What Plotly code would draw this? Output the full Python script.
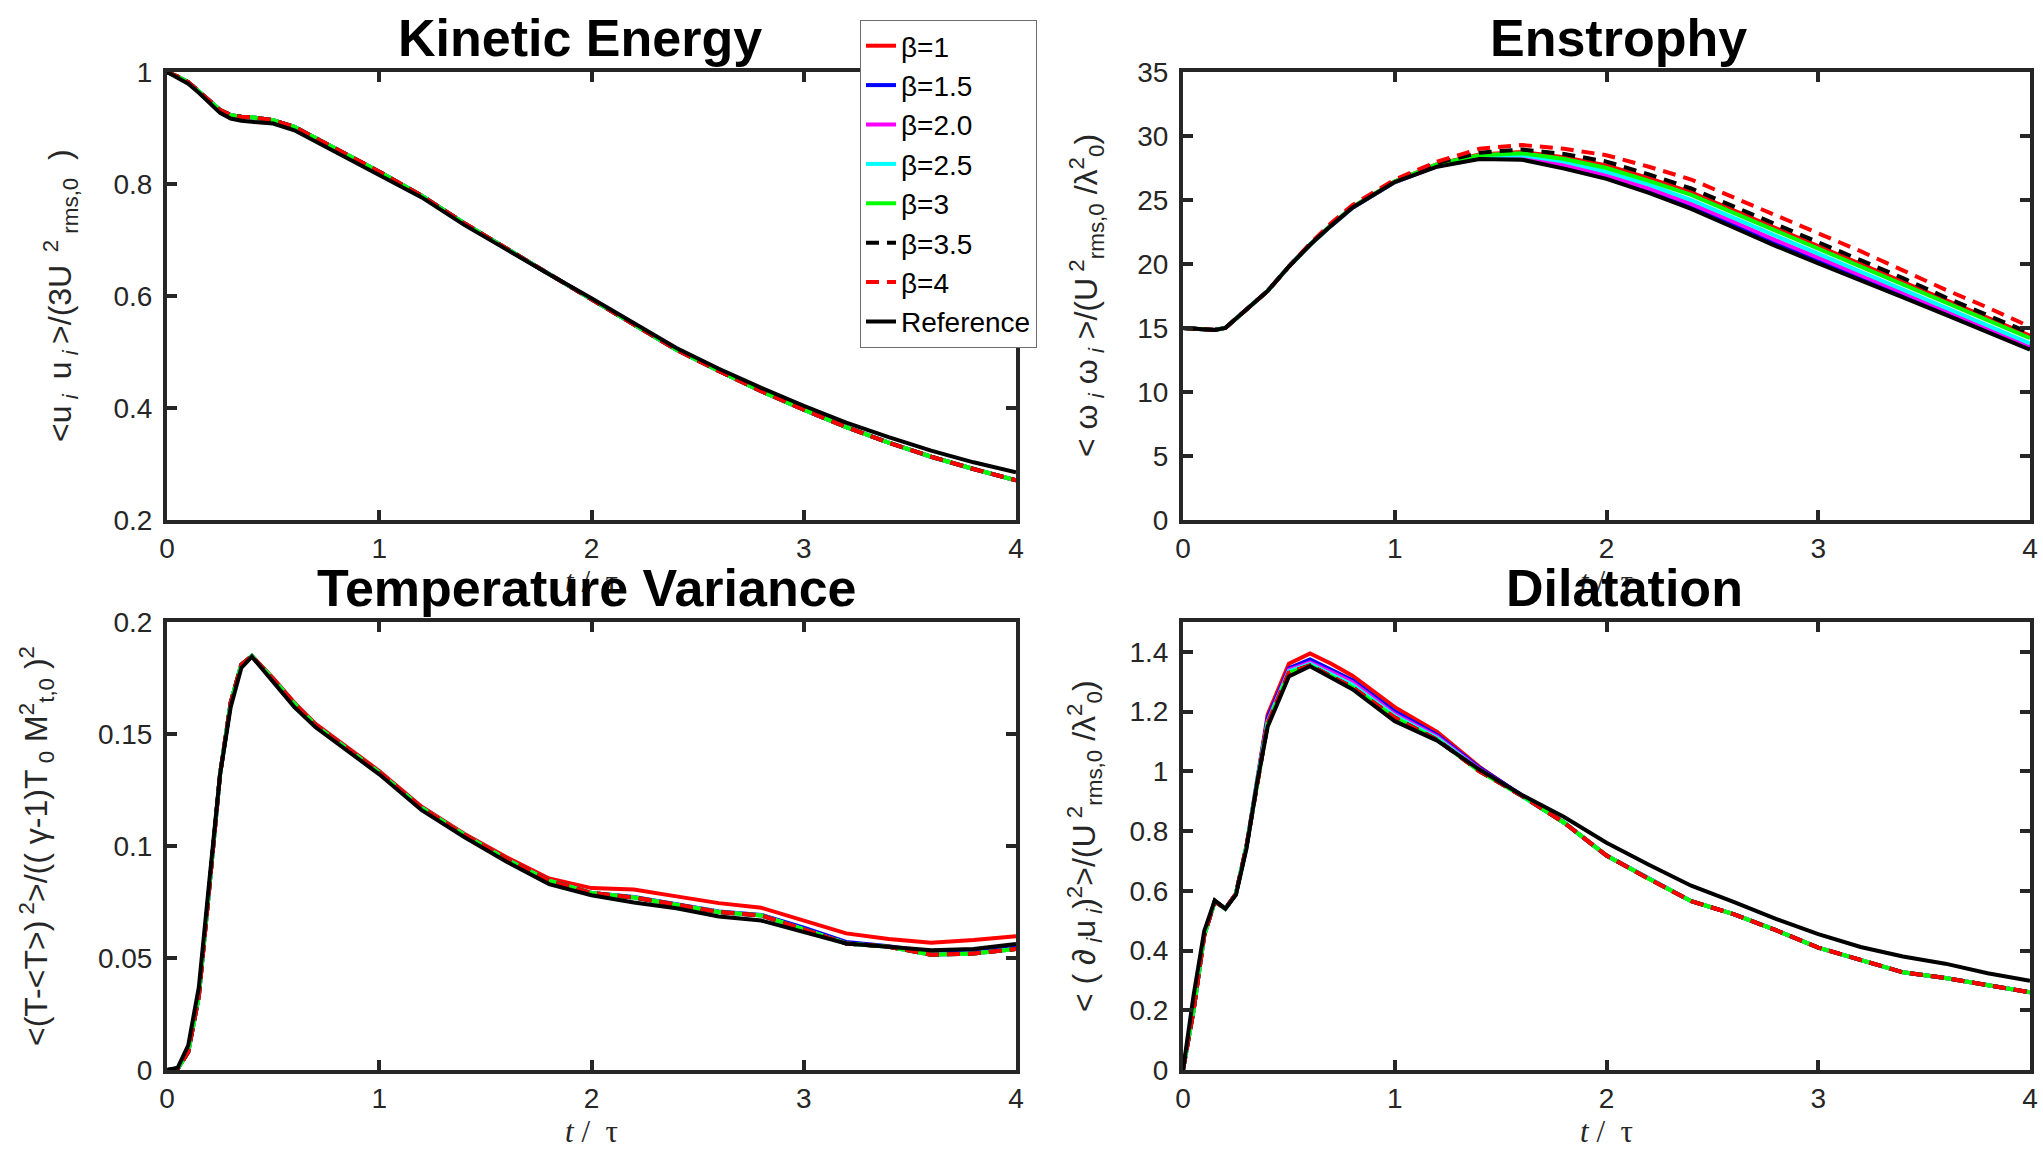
import plotly.graph_objects as go

W, H = 2043, 1151

# ---------------- data ----------------
t = [0, 0.05, 0.1, 0.15, 0.2, 0.25, 0.3, 0.35, 0.4, 0.5, 0.6, 0.7, 0.8, 1.0, 1.2, 1.4,
     1.6, 1.8, 2.0, 2.2, 2.4, 2.6, 2.8, 3.0, 3.2, 3.4, 3.6, 3.8, 4.0]

series_names = ["β=1", "β=1.5", "β=2.0", "β=2.5", "β=3", "β=3.5", "β=4", "Reference"]

# Kinetic energy
ke_ref = [1.000, 0.990, 0.979, 0.963, 0.945, 0.927, 0.917, 0.913, 0.911, 0.908, 0.896, 0.876, 0.856,
          0.818, 0.776, 0.727, 0.682, 0.639, 0.596, 0.551, 0.507, 0.470, 0.436, 0.404, 0.374, 0.348,
          0.324, 0.303, 0.285]
ke_beta = [1.000, 0.992, 0.982, 0.966, 0.948, 0.932, 0.923, 0.920, 0.919, 0.914, 0.902, 0.883, 0.862,
           0.822, 0.779, 0.730, 0.684, 0.639, 0.594, 0.549, 0.504, 0.466, 0.430, 0.397, 0.366, 0.338,
           0.313, 0.291, 0.271]

# Enstrophy
ens_ref = [15.0, 14.95, 14.85, 14.85, 15.0, 15.7, 16.4, 17.2, 17.9, 19.8, 21.5, 23.0, 24.4, 26.4, 27.6,
           28.2, 28.15, 27.45, 26.65, 25.55, 24.3, 22.85, 21.4, 20.05, 18.75, 17.4, 16.05, 14.7, 13.3]
ens_b1 = [15.0, 14.95, 14.85, 14.85, 15.0, 15.7, 16.4, 17.2, 17.9, 19.8, 21.5, 23.05, 24.45, 26.45, 27.8,
          28.55, 28.75, 28.35, 27.7, 26.7, 25.6, 24.2, 22.8, 21.4, 20.0, 18.6, 17.2, 15.8, 14.4]
ens_b15 = [15.0, 14.95, 14.85, 14.85, 15.0, 15.7, 16.4, 17.2, 17.9, 19.8, 21.5, 23.0, 24.4, 26.4, 27.65,
           28.25, 28.2, 27.55, 26.8, 25.7, 24.5, 23.05, 21.6, 20.25, 18.95, 17.6, 16.2, 14.85, 13.45]
ens_b2 = [15.0, 14.95, 14.85, 14.85, 15.0, 15.7, 16.4, 17.2, 17.9, 19.8, 21.5, 23.0, 24.4, 26.4, 27.65,
          28.3, 28.3, 27.75, 26.95, 25.9, 24.7, 23.3, 21.85, 20.5, 19.15, 17.8, 16.4, 15.0, 13.6]
ens_b25 = [15.0, 14.95, 14.85, 14.85, 15.0, 15.7, 16.4, 17.2, 17.9, 19.8, 21.5, 23.0, 24.4, 26.4, 27.7,
           28.4, 28.5, 28.0, 27.2, 26.2, 25.0, 23.6, 22.2, 20.8, 19.4, 18.0, 16.6, 15.2, 13.8]
ens_b3 = [15.0, 14.95, 14.85, 14.85, 15.0, 15.7, 16.4, 17.2, 17.9, 19.8, 21.5, 23.05, 24.45, 26.45, 27.8,
          28.5, 28.65, 28.2, 27.5, 26.5, 25.4, 24.0, 22.6, 21.2, 19.8, 18.4, 17.0, 15.6, 14.2]
ens_b35 = [15.0, 14.95, 14.85, 14.85, 15.0, 15.7, 16.4, 17.2, 17.9, 19.8, 21.55, 23.1, 24.5, 26.5, 27.9,
           28.7, 28.95, 28.6, 28.0, 27.0, 25.9, 24.5, 23.1, 21.7, 20.3, 18.9, 17.4, 16.0, 14.6]
ens_b4 = [15.0, 14.95, 14.85, 14.85, 15.0, 15.7, 16.4, 17.2, 17.9, 19.8, 21.6, 23.2, 24.6, 26.6, 28.0,
          29.0, 29.3, 29.0, 28.5, 27.6, 26.6, 25.2, 23.8, 22.4, 21.0, 19.5, 18.0, 16.6, 15.1]

# Temperature variance
temp_ref = [0.0, 0.001, 0.011, 0.037, 0.085, 0.132, 0.162, 0.1795, 0.1845, 0.173, 0.162, 0.153, 0.146,
            0.132, 0.116, 0.104, 0.093, 0.083, 0.078, 0.0748, 0.0722, 0.0685, 0.0667, 0.0615, 0.0565,
            0.055, 0.0535, 0.054, 0.0563]
temp_b1 = [0.0, 0.0005, 0.008, 0.033, 0.082, 0.132, 0.164, 0.181, 0.1848, 0.175, 0.164, 0.1545, 0.1475,
           0.1335, 0.1175, 0.1055, 0.095, 0.0855, 0.0812, 0.0806, 0.0775, 0.0745, 0.0724, 0.0668, 0.061,
           0.0585, 0.0568, 0.058, 0.0597]
temp_b15 = [0.0, 0.0005, 0.008, 0.033, 0.082, 0.132, 0.164, 0.181, 0.1848, 0.1745, 0.1635, 0.1538, 0.1468,
            0.1328, 0.117, 0.105, 0.094, 0.0845, 0.079, 0.0772, 0.074, 0.0708, 0.0692, 0.0635, 0.0572,
            0.0552, 0.0525, 0.0525, 0.0548]
temp_beta = [0.0, 0.0005, 0.008, 0.033, 0.082, 0.132, 0.164, 0.181, 0.1848, 0.1745, 0.1635, 0.1538, 0.1468,
             0.1328, 0.117, 0.105, 0.094, 0.0845, 0.079, 0.077, 0.0738, 0.0705, 0.069, 0.0628, 0.0565,
             0.055, 0.0515, 0.052, 0.054]

# Dilatation
dil_ref = [0.0, 0.25, 0.465, 0.568, 0.54, 0.586, 0.742, 0.961, 1.15, 1.318, 1.352, 1.315, 1.275, 1.168,
           1.103, 1.006, 0.921, 0.847, 0.761, 0.687, 0.617, 0.563, 0.506, 0.455, 0.412, 0.38, 0.356,
           0.324, 0.299]
dil_b1 = [0.0, 0.2, 0.45, 0.565, 0.54, 0.59, 0.75, 0.98, 1.19, 1.36, 1.395, 1.36, 1.32, 1.215, 1.132,
          1.015, 0.918, 0.828, 0.718, 0.64, 0.565, 0.522, 0.468, 0.41, 0.367, 0.327, 0.308, 0.284, 0.26]
dil_b15 = [0.0, 0.2, 0.45, 0.565, 0.54, 0.59, 0.75, 0.975, 1.18, 1.345, 1.375, 1.34, 1.305, 1.2, 1.122,
           1.012, 0.918, 0.828, 0.718, 0.64, 0.565, 0.522, 0.468, 0.41, 0.367, 0.327, 0.308, 0.284, 0.26]
dil_b2 = [0.0, 0.2, 0.45, 0.565, 0.54, 0.59, 0.75, 0.97, 1.17, 1.34, 1.365, 1.332, 1.298, 1.192, 1.117,
          1.008, 0.918, 0.828, 0.718, 0.64, 0.565, 0.522, 0.468, 0.41, 0.367, 0.327, 0.308, 0.284, 0.26]
dil_b25 = [0.0, 0.2, 0.45, 0.565, 0.54, 0.59, 0.75, 0.968, 1.165, 1.335, 1.36, 1.325, 1.29, 1.186, 1.112,
           1.005, 0.918, 0.828, 0.718, 0.64, 0.565, 0.522, 0.468, 0.41, 0.367, 0.327, 0.308, 0.284, 0.26]
dil_beta = [0.0, 0.2, 0.45, 0.565, 0.54, 0.59, 0.75, 0.965, 1.16, 1.33, 1.355, 1.318, 1.282, 1.18, 1.106,
            1.0, 0.918, 0.828, 0.718, 0.64, 0.565, 0.522, 0.468, 0.41, 0.367, 0.327, 0.308, 0.284, 0.26]

x_ticks = [0, 1, 2, 3, 4]
ke_ticks = [0.2, 0.4, 0.6, 0.8, 1.0]
ke_ticklabels = ["0.2", "0.4", "0.6", "0.8", "1"]
ens_ticks = [0, 5, 10, 15, 20, 25, 30, 35]
temp_ticks = [0, 0.05, 0.1, 0.15, 0.2]
temp_ticklabels = ["0", "0.05", "0.1", "0.15", "0.2"]
dil_ticks = [0, 0.2, 0.4, 0.6, 0.8, 1.0, 1.2, 1.4]
dil_ticklabels = ["0", "0.2", "0.4", "0.6", "0.8", "1", "1.2", "1.4"]

titles = ["Kinetic Energy", "Enstrophy", "Temperature Variance", "Dilatation"]
ylabels = [
    "&lt;u<sub> <i>i</i> </sub> u<sub> <i>i</i> </sub>&gt;/(3U<sup>  2</sup><sub> rms,0</sub>  )",
    "&lt; ω<sub> <i>i</i></sub> ω<sub> <i>i</i></sub> &gt;/(U<sup> 2</sup><sub>rms,0</sub> /λ<sup>2</sup><sub>0</sub>)",
    "&lt;(T-&lt;T&gt;)<sup> 2</sup>&gt;/(( γ-1)T<sub> 0</sub> M<sup>2</sup><sub>t,0</sub> )<sup>2</sup>",
    "&lt; ( ∂<sub> <i>i</i></sub>u<sub> <i>i</i></sub>)<sup>2</sup>&gt;/(U<sup> 2</sup><sub>rms,0</sub> /λ<sup>2</sup><sub>0</sub>)",
]

# ---------------- styling ----------------
colors = ["#FF0000", "#0000FF", "#FF00FF", "#00FFFF", "#00FF00", "#000000", "#FF0000", "#000000"]
DASH = "13px,8px"
dashes = ["solid", "solid", "solid", "solid", "solid", DASH, DASH, "solid"]

panel_series = [
    [ke_beta, ke_beta, ke_beta, ke_beta, ke_beta, ke_beta, ke_beta, ke_ref],
    [ens_b1, ens_b15, ens_b2, ens_b25, ens_b3, ens_b35, ens_b4, ens_ref],
    [temp_b1, temp_b15, temp_beta, temp_beta, temp_beta, temp_beta, temp_beta, temp_ref],
    [dil_b1, dil_b15, dil_b2, dil_b25, dil_beta, dil_beta, dil_beta, dil_ref],
]

# pixel boxes of the four axes (left, right, top, bottom)
boxes = [(167, 1016, 72, 520), (1183, 2030, 72, 520), (167, 1016, 622, 1070), (1183, 2030, 622, 1070)]
title_shift = [-12, 12, -5, 18]

fig = go.Figure()
for p, ys in enumerate(panel_series):
    ax = "" if p == 0 else str(p + 1)
    for i, y in enumerate(ys):
        fig.add_trace(go.Scatter(
            x=t, y=y, mode="lines", name=series_names[i],
            line=dict(color=colors[i], width=4, dash=dashes[i]),
            showlegend=(p == 0), legendgroup=series_names[i],
            xaxis="x" + ax, yaxis="y" + ax))

AX_COL = "#262626"
tickfont = dict(family="Liberation Sans, Arial, sans-serif", size=28, color=AX_COL)
common = dict(showline=True, linecolor=AX_COL, linewidth=4, mirror="ticks", ticks="inside",
              ticklen=10, tickwidth=4, tickcolor=AX_COL, showgrid=False, zeroline=False,
              tickfont=tickfont, fixedrange=True, automargin=False)

yspecs = [
    dict(range=[0.2, 1.0], tickvals=ke_ticks, ticktext=ke_ticklabels),
    dict(range=[0, 35], tickvals=ens_ticks, ticktext=[str(v) for v in ens_ticks]),
    dict(range=[0, 0.2], tickvals=temp_ticks, ticktext=temp_ticklabels),
    dict(range=[0, 1.5], tickvals=dil_ticks, ticktext=dil_ticklabels),
]

layout = dict(width=W, height=H, margin=dict(l=0, r=0, t=0, b=0, pad=0, autoexpand=False),
              paper_bgcolor="white", plot_bgcolor="white", showlegend=True)
annotations = []
for p, (l, r, tp, bt) in enumerate(boxes):
    ax = "" if p == 0 else str(p + 1)
    xd = [l / W, r / W]
    yd = [1 - bt / H, 1 - tp / H]
    layout["xaxis" + ax] = dict(domain=xd, range=[0, 4], tickvals=x_ticks,
                                ticktext=[str(v) for v in x_ticks],
                                anchor="y" + ax, ticklabelstandoff=0, **common)
    layout["yaxis" + ax] = dict(domain=yd, anchor="x" + ax, ticklabelstandoff=5,
                                **yspecs[p], **common)
    cx = (l + r) / 2 / W
    # x-axis label (drawn first so the panel titles sit on top of it)
    annotations.append(dict(text="<i>t</i> /  τ", xref="paper", yref="paper",
                            x=cx, y=1 - (bt + 61) / H, xanchor="center", yanchor="middle",
                            showarrow=False,
                            font=dict(family="Liberation Serif, Times New Roman, serif", size=31, color=AX_COL)))
for p, (l, r, tp, bt) in enumerate(boxes):
    cx = ((l + r) / 2 + title_shift[p]) / W
    # subplot title
    annotations.append(dict(text="<b>" + titles[p] + "</b>", xref="paper", yref="paper",
                            x=cx, y=1 - tp / H, xanchor="center", yanchor="bottom", yshift=3,
                            showarrow=False,
                            font=dict(family="Liberation Sans, Arial, sans-serif",
                                      size=52, color="black")))

ylabel_x = [60, 1086, 36, 1084]
for p, (l, r, tp, bt) in enumerate(boxes):
    annotations.append(dict(text=ylabels[p], xref="paper", yref="paper",
                            x=ylabel_x[p] / W, y=1 - (tp + bt) / 2 / H,
                            xanchor="center", yanchor="middle", textangle=-90, showarrow=False,
                            font=dict(family="Liberation Sans, Arial, sans-serif", size=32, color=AX_COL)))

layout["annotations"] = annotations
layout["legend"] = dict(x=860 / W, y=1 - 20 / H, xanchor="left", yanchor="top",
                        bgcolor="white", bordercolor="#6e6e6e", borderwidth=1,
                        font=dict(family="Liberation Sans, Arial, sans-serif", size=28, color="black"),
                        tracegroupgap=0, itemwidth=30)
fig.update_layout(**layout)

fig.write_html("out.html")
